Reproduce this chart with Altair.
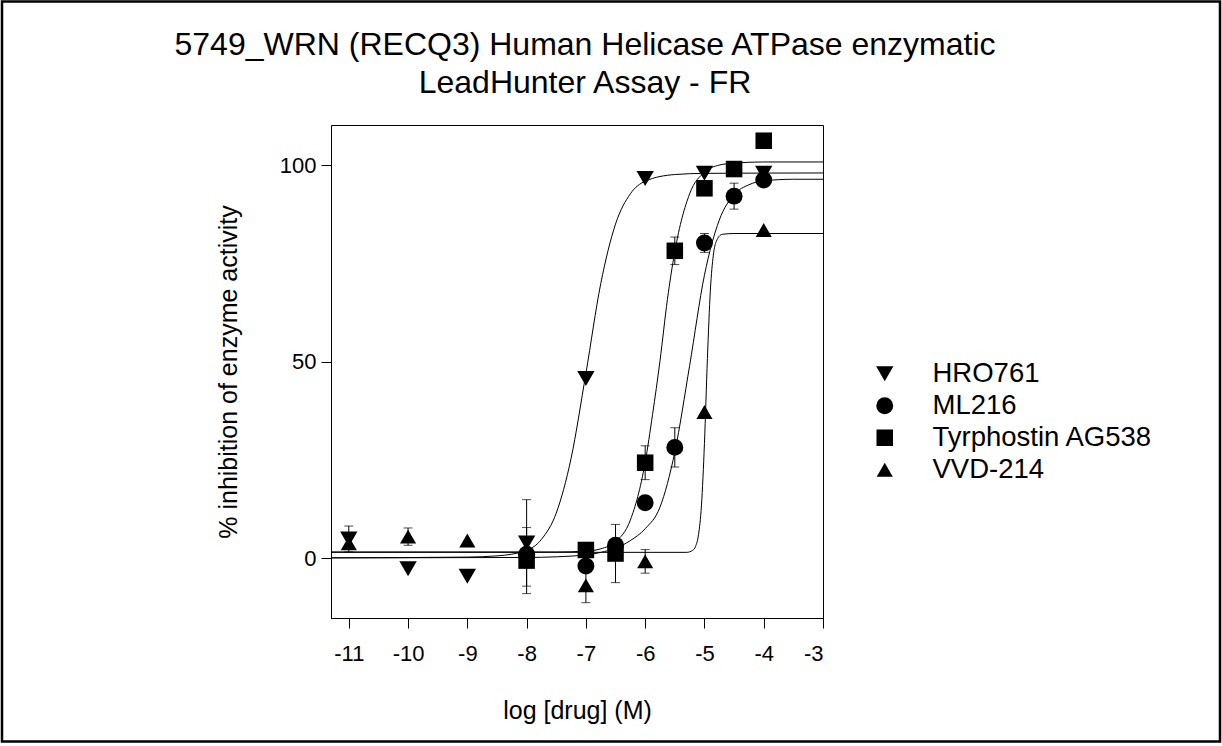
import altair as alt
import pandas as pd

# ---------------- data ----------------
compounds = ["HRO761", "ML216", "Tyrphostin AG538", "VVD-214"]
shapes = ["triangle-down", "circle", "square", "triangle-up"]
sizes = [300, 260, 210, 300]

# measured points (log M, % inhibition, error)
hro_x = [-11, -10, -9, -8, -7, -6, -5, -4]
hro_y = [4.9, -2.7, -4.6, 3.9, 45.7, 96.6, 97.9, 97.9]
hro_e = [3.3, 0, 0, 11.0, 0, 0, 0, 0]

ml_x = [-8, -7, -6.5, -6, -5.5, -5, -4.5, -4]
ml_y = [1.0, -2.0, 3.3, 14.1, 28.2, 80.2, 92.1, 96.2]
ml_e = [0, 0, 0, 0, 5.0, 2.4, 3.3, 0]

ty_x = [-8, -7, -6.5, -6, -5.5, -5, -4.5, -4]
ty_y = [-0.6, 2.1, 1.2, 24.3, 78.2, 94.1, 99.0, 106.2]
ty_e = [8.4, 0, 7.4, 4.3, 3.5, 0, 0, 0]

vvd_x = [-11, -10, -9, -8, -7, -6, -5, -4]
vvd_y = [3.8, 5.5, 4.5, 1.6, -6.9, -0.8, 37.2, 83.5]
vvd_e = [0, 2.2, 0, 0, 4.4, 3.0, 0, 0]

# fitted curves, points
hro_cx = [-11.3, -9, -8.5, -8, -7.75, -7.5, -7.25, -7, -6.75, -6.5, -6.25, -6, -5.5, -5, -3]
hro_cy = [0.1, 0.3, 0.6, 2.0, 4.8, 11.5, 25.4, 47.0, 69.8, 85.0, 92.7, 95.9, 97.6, 97.9, 98.0]

ml_cx = [-11.3, -8, -7, -6.75, -6.5, -6.25, -6, -5.75, -5.5, -5.25, -5, -4.75, -4.5, -4.25, -4, -3.5, -3]
ml_cy = [0.1, 0.2, 0.8, 1.5, 2.5, 4.5, 7.5, 13.0, 27.0, 49.0, 72.0, 86.0, 92.5, 95.0, 96.0, 96.4, 96.4]

ty_cx = [-11.3, -7.5, -7, -6.75, -6.5, -6.25, -6, -5.875, -5.75, -5.625, -5.5, -5.25, -5, -4.75, -4.5, -4, -3]
ty_cy = [1.6, 1.6, 1.8, 2.4, 4.2, 9.7, 24.4, 36.6, 50.2, 65.8, 78.0, 92.7, 98.2, 100.0, 100.5, 100.8, 100.8]

vvd_cx = [-11.3, -5.3, -5.2, -5.15, -5.1, -5.05, -5.0, -4.95, -4.9, -4.85, -4.8, -4.7, -4.5, -3]
vvd_cy = [1.5, 1.5, 2.0, 3.0, 6.0, 13.5, 29.2, 50.8, 68.2, 77.1, 80.6, 82.4, 82.6, 82.6]

x_ticks = [-11, -10, -9, -8, -7, -6, -5, -4, -3]
y_ticks = [0, 50, 100]

title_lines = ["5749_WRN (RECQ3) Human Helicase ATPase enzymatic",
               "LeadHunter Assay - FR"]

# ---------------- tables ----------------
pts = []
for name, xs, ys, es in [("HRO761", hro_x, hro_y, hro_e), ("ML216", ml_x, ml_y, ml_e),
                         ("Tyrphostin AG538", ty_x, ty_y, ty_e), ("VVD-214", vvd_x, vvd_y, vvd_e)]:
    for x, y, e in zip(xs, ys, es):
        pts.append({"compound": name, "x": x, "y": y, "lo": y - e, "hi": y + e, "e": e})
pts = pd.DataFrame(pts)
errs = pts[pts["e"] > 0]

crv = []
for name, xs, ys in [("HRO761", hro_cx, hro_cy), ("ML216", ml_cx, ml_cy),
                     ("Tyrphostin AG538", ty_cx, ty_cy), ("VVD-214", vvd_cx, vvd_cy)]:
    for x, y in zip(xs, ys):
        crv.append({"compound": name, "x": x, "y": y})
crv = pd.DataFrame(crv)

FONT = "Liberation Sans"
xscale = alt.Scale(domain=[-11.3, -3], nice=False, zero=False)
yscale = alt.Scale(domain=[-15.2, 110.2], nice=False, zero=False)

xaxis = alt.Axis(values=x_ticks, title="log [drug] (M)", labelExpr="'' + datum.value",
                 grid=False, tickSize=10, labelPadding=15, titlePadding=34)
yaxis = alt.Axis(values=y_ticks, title="% inhibition of enzyme activity",
                 grid=False, tickSize=10, labelPadding=5, titlePadding=38)

curves = alt.Chart(crv).mark_line(interpolate="monotone", color="black", strokeWidth=1).encode(
    x=alt.X("x:Q", scale=xscale, axis=xaxis),
    y=alt.Y("y:Q", scale=yscale, axis=yaxis),
    detail="compound:N",
)

rules = alt.Chart(errs).mark_rule(color="black", strokeWidth=1).encode(
    x=alt.X("x:Q", scale=xscale),
    y=alt.Y("lo:Q", scale=yscale),
    y2="hi:Q",
)
caps_lo = alt.Chart(errs).mark_tick(color="black", thickness=1, size=9, orient="horizontal").encode(
    x=alt.X("x:Q", scale=xscale), y=alt.Y("lo:Q", scale=yscale))
caps_hi = alt.Chart(errs).mark_tick(color="black", thickness=1, size=9, orient="horizontal").encode(
    x=alt.X("x:Q", scale=xscale), y=alt.Y("hi:Q", scale=yscale))

legend = alt.Legend(title=None, orient="none", legendX=540, legendY=235,
                    labelFont=FONT, labelFontSize=27.5, labelColor="black", labelLimit=0,
                    labelOffset=34, rowPadding=3, symbolFillColor="black",
                    symbolStrokeColor="black", symbolStrokeWidth=0)

points = alt.Chart(pts).mark_point(filled=True, color="black", opacity=1, strokeWidth=0).encode(
    x=alt.X("x:Q", scale=xscale),
    y=alt.Y("y:Q", scale=yscale),
    shape=alt.Shape("compound:N", scale=alt.Scale(domain=compounds, range=shapes), legend=legend),
    size=alt.Size("compound:N", scale=alt.Scale(domain=compounds, range=sizes), legend=legend),
)

frame = alt.Chart(pd.DataFrame({"a": [0]})).mark_rect(
    fill=None, stroke="black", strokeWidth=2.5).encode(
    x=alt.value(-329), x2=alt.value(889), y=alt.value(-123.5), y2=alt.value(616.5))

chart = alt.layer(curves, rules, caps_lo, caps_hi, points, frame).properties(
    width=492, height=493,
    autosize=alt.AutoSizeParams(type="none"),
    padding={"left": 331, "top": 125, "right": 399, "bottom": 128},
    title=alt.TitleParams(text=title_lines, font=FONT, fontSize=32, fontWeight="normal",
                          color="black", anchor="middle", dx=8, offset=-100, lineHeight=38),
).configure_view(stroke="black", strokeWidth=1).configure_axis(
    labelFont=FONT, labelFontSize=22, labelColor="black",
    titleFont=FONT, titleFontSize=25, titleFontWeight="normal", titleColor="black",
    tickColor="black", domainColor="black", tickWidth=1, domainWidth=1,
)

chart.save("out.html", embed_options={"renderer": "svg", "actions": False})
